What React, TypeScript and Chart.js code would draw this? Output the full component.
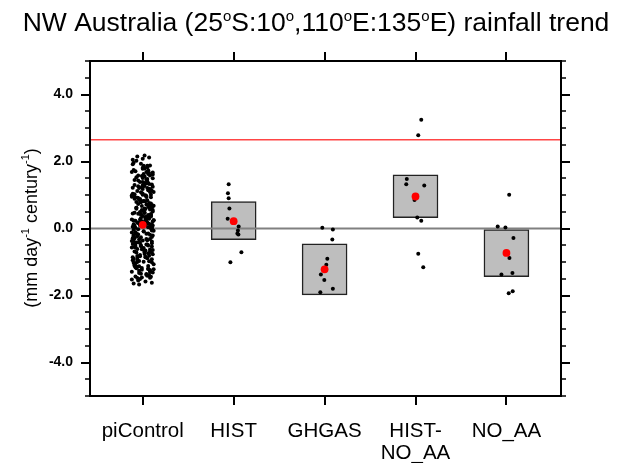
import React, { useEffect, useRef } from 'react';
import { Chart, registerables } from 'chart.js';

Chart.register(...registerables);

// ---------- data ----------
const categories: (string | string[])[] = ['piControl', 'HIST', 'GHGAS', ['HIST-', 'NO_AA'], 'NO_AA'];
const categoryPositions = [1, 2, 3, 4, 5];
const yTickValues = [-4, -2, 0, 2, 4];
const yMinorStep = 0.5;
const Y_MIN = -5;
const Y_MAX = 5;
const X_MIN = 0.42;
const X_MAX = 5.6;

const zeroLine = 0;
const observedTrend = 2.65;

const piControlY = [
  0.12, -0.45, 1.31, 0.78, -1.12, 0.05, 1.87, -0.63, 0.44, -0.21, 1.02, -1.38, 0.67, 0.29, -0.88, 1.55, -0.04, 0.93, -1.51, 0.36,
  -0.72, 1.18, 0.21, -0.33, 1.74, -1.05, 0.58, 0.01, -0.57, 1.41, 0.83, -1.24, 0.17, -0.09, 1.96, -0.81, 0.49, 1.09, -1.43, 0.26,
  0.71, -0.18, 1.27, -0.95, 0.39, 2.08, -0.52, 0.14, -1.31, 0.88, 1.63, -0.27, 0.52, -0.69, 1.12, 0.07, -1.18, 0.96, 1.48, -0.41,
  0.31, -1.62, 0.62, 1.83, -0.12, -0.84, 0.41, 1.21, -0.36, 0.76, -1.02, 1.36, 0.09, -0.61, 1.69, 0.23, -1.27, 0.55, -0.15, 1.04,
  -0.48, 0.85, 1.58, -1.09, 0.19, -0.77, 2.15, 0.33, -0.24, 1.15, -1.46, 0.64, 0.02, 1.79, -0.54, 0.91, -0.98, 0.27, 1.39, -0.31,
  0.47, -1.21, 1.06, -0.06, 0.73, -0.66, 1.92, 0.11, -1.36, 0.59, 1.25, -0.43, 0.18, -0.91, 1.51, 0.38, -1.14, 0.81, -0.26, 1.66,
  -0.58, 0.24, 1.33, -1.55, 0.69, -0.11, 0.97, 1.78, -0.79, 0.06, -1.29, 1.14, 0.43, -0.39, 2.02, -0.86, 0.61, 0.15, -1.07, 1.45,
  0.35, -0.68, 0.89, -1.41, 1.23, 0.03, -0.23, 1.61, -0.97, 0.53, 1.88, -0.46, 0.22, -1.19, 0.75, 1.08, -0.35, 0.13, -0.74, 1.29,
  -1.33, 0.66, 0.28, 1.71, -0.51, 0.95, -1.01, 0.42, 1.17, -0.17, 2.18, -0.64, 0.08, 1.35, -1.23, 0.57, -0.29, 0.84, 1.53, -0.92,
  0.16, -1.48, 1.01, 0.46, -0.37, 1.84, -0.83, 0.25, -1.16, 0.72, 1.43, -0.08, 0.63, -0.55, 1.19, -1.67, 0.34, 0.99, -0.19, 1.57,
  0.04, 1.22, -0.71, 0.58, -1.26, 1.67, -0.14, 0.37, -0.89, 1.93, -0.44, 0.79, 0.10, -1.52, 1.09, -0.02, 0.68, -0.62, 1.46, -1.11,
  0.27, -0.31, 1.75, -0.99, 0.51, 0.92, -0.48, 1.30, -1.39, 0.19, -0.07, 1.58, -0.76, 0.43, 2.05, -1.20, 0.85, -0.25, 0.62, -1.58,
  1.13, -0.53, 0.30, -1.04, 1.81, 0.14, -0.37, 0.99, -0.82, 0.55, 1.39, -1.30, 0.07, -0.16, 1.63, -0.69, 0.40, 1.26, -1.44, 0.22,
  -0.94, 0.72, 1.50, -0.20, 0.33, -1.35, 1.04, 0.00, -0.57, 1.87, -0.86, 0.48, 1.17, -1.13, 0.25, -0.42, 0.81, 1.69, -0.66, 0.12,
  0.60, -1.22, 0.18, 1.35, -0.29, 0.94, -1.47, 0.45, 1.01, -0.73, 0.09, 2.12, -1.00, 0.67, -0.12, 1.21, -0.50, 0.36, -1.64, 0.82,
];
const piControlJitter = [
  0.03, -0.08, 0.10, -0.02, 0.06, -0.11, 0.01, 0.08, -0.05, 0.11, -0.09, 0.04, -0.01, 0.07, -0.06, 0.02, -0.10, 0.09, -0.03, 0.05,
  -0.07, 0.00, 0.11, -0.04, 0.06, -0.09, 0.03, 0.10, -0.12, 0.05, -0.02, 0.08, -0.06, 0.01, -0.10, 0.07, -0.03, 0.12, -0.08, 0.04,
  0.09, -0.05, 0.02, -0.11, 0.07, 0.00, -0.08, 0.04, 0.11, -0.03, 0.06, -0.10, 0.01, 0.08, -0.06, 0.10, -0.01, -0.09, 0.05, -0.04,
  -0.02, 0.10, -0.07, 0.05, -0.12, 0.03, 0.09, -0.04, 0.00, 0.07, -0.10, 0.02, 0.11, -0.06, 0.04, -0.08, 0.08, -0.01, 0.06, -0.11,
  0.05, -0.03, 0.08, -0.09, 0.01, 0.11, -0.06, 0.03, -0.10, 0.09, -0.01, 0.06, -0.08, 0.02, 0.10, -0.05, 0.07, -0.12, 0.00, 0.04,
  -0.09, 0.06, -0.01, 0.10, -0.05, 0.02, -0.11, 0.08, 0.04, -0.07, 0.11, -0.03, 0.05, -0.10, 0.00, 0.09, -0.06, 0.03, -0.02, 0.07,
  0.01, -0.10, 0.07, -0.05, 0.11, -0.08, 0.04, 0.00, -0.03, 0.09, -0.12, 0.06, -0.02, 0.10, -0.07, 0.03, 0.08, -0.04, 0.12, -0.09,
  0.07, 0.02, -0.09, 0.05, -0.01, 0.10, -0.06, 0.11, -0.04, 0.01, 0.08, -0.11, 0.03, -0.07, 0.09, -0.02, 0.05, -0.10, 0.06, 0.00,
  -0.04, 0.09, 0.03, -0.08, 0.06, -0.12, 0.10, -0.02, 0.07, -0.06, 0.02, 0.11, -0.09, 0.04, -0.01, 0.08, -0.11, 0.05, -0.07, 0.10,
  0.00, -0.06, 0.09, 0.02, -0.10, 0.05, -0.03, 0.12, -0.08, 0.06, -0.05, 0.01, 0.10, -0.09, 0.07, -0.04, 0.03, -0.12, 0.08, -0.01,
  0.06, -0.11, 0.02, 0.09, -0.04, 0.11, -0.08, 0.00, 0.05, -0.02, 0.10, -0.07, 0.03, -0.12, 0.08, -0.05, 0.12, -0.01, 0.04, -0.09,
  -0.03, 0.08, -0.10, 0.01, 0.11, -0.06, 0.04, -0.09, 0.07, -0.01, 0.12, -0.05, 0.02, 0.09, -0.11, 0.06, -0.04, 0.10, -0.07, 0.03,
  0.10, -0.02, 0.05, -0.08, 0.00, 0.07, -0.12, 0.03, -0.06, 0.11, -0.03, 0.08, -0.10, 0.04, 0.01, -0.09, 0.06, -0.05, 0.09, -0.01,
  -0.06, 0.04, 0.11, -0.10, 0.07, -0.02, 0.00, 0.09, -0.08, 0.05, -0.11, 0.02, 0.08, -0.04, 0.12, -0.07, 0.01, -0.12, 0.03, 0.10,
  0.02, 0.12, -0.05, 0.06, -0.09, 0.04, 0.08, -0.11, 0.00, 0.10, -0.03, 0.07, -0.06, 0.11, -0.08, 0.05, -0.02, 0.09, -0.10, 0.01,
];

const histY = [1.32, 1.05, 0.9, 0.6, 0.29, 0.06, -0.06, -0.15, -0.18, -0.71, -1.01];
const histJitter = [-0.055, -0.063, -0.055, -0.047, -0.066, 0.055, 0.047, 0.041, 0.052, 0.085, -0.036];

const ghgasY = [0.02, -0.03, -0.33, -0.9, -1.08, -1.37, -1.54, -1.8, -1.9];
const ghgasJitter = [-0.025, 0.091, 0.085, 0.03, 0.019, -0.041, -0.003, 0.091, -0.047];

const histNoAaY = [3.25, 2.78, 1.48, 1.32, 1.28, 0.85, 0.33, 0.23, -0.75, -1.16];
const histNoAaJitter = [0.063, 0.03, -0.096, -0.102, 0.096, -0.011, 0.019, 0.063, 0.03, 0.085];

const noAaY = [1.01, 0.06, 0.03, -0.28, -0.88, -1.33, -1.37, -1.87, -1.93];
const noAaJitter = [0.03, -0.096, -0.011, 0.077, 0.033, 0.066, -0.055, 0.069, 0.025];

// boxes for HIST, GHGAS, HIST-NO_AA, NO_AA
const boxPositions = [2, 3, 4, 5];
const boxLow = [-0.33, -1.98, 0.32, -1.44];
const boxHigh = [0.8, -0.46, 1.6, -0.03];

const ensembleMean = [0.11, 0.22, -1.22, 0.955, -0.73];

// ---------- helpers ----------
const FAMILY = '"Liberation Sans", Arial, Helvetica, sans-serif';

type Seg = { t: string; sup?: boolean };

function drawRich(
  ctx: CanvasRenderingContext2D,
  segs: Seg[],
  x: number,
  y: number,
  size: number,
  supSize: number,
  supRise: number
) {
  const widths = segs.map((s) => {
    ctx.font = `${s.sup ? supSize : size}px ${FAMILY}`;
    return ctx.measureText(s.t).width;
  });
  const total = widths.reduce((a, b) => a + b, 0);
  let cx = x - total / 2;
  ctx.textAlign = 'left';
  ctx.textBaseline = 'alphabetic';
  segs.forEach((s, i) => {
    ctx.font = `${s.sup ? supSize : size}px ${FAMILY}`;
    ctx.fillText(s.t, cx, s.sup ? y - supRise : y);
    cx += widths[i];
  });
}

const titleSegs: Seg[] = [
  { t: 'NW Australia (25' },
  { t: 'o', sup: true },
  { t: 'S:10' },
  { t: 'o', sup: true },
  { t: ',110' },
  { t: 'o', sup: true },
  { t: 'E:135' },
  { t: 'o', sup: true },
  { t: 'E) rainfall trend' },
];

const yTitleSegs: Seg[] = [
  { t: '(mm day' },
  { t: '-1', sup: true },
  { t: ' century' },
  { t: '-1', sup: true },
  { t: ')' },
];

const framePlugin = {
  id: 'framePlugin',
  afterDraw(chart: any) {
    const ctx: CanvasRenderingContext2D = chart.ctx;
    const { left, right, top, bottom } = chart.chartArea;
    const ys = chart.scales.y;
    const xs = chart.scales.x;
    ctx.save();
    ctx.strokeStyle = '#000';
    ctx.lineWidth = 2;
    ctx.strokeRect(left, top, right - left, bottom - top);

    for (let v = Y_MIN; v <= Y_MAX + 1e-9; v += yMinorStep) {
      const p = Math.round(ys.getPixelForValue(v));
      const major = yTickValues.some((t) => Math.abs(t - v) < 1e-6);
      const len = major ? 9 : 5;
      ctx.lineWidth = major ? 2 : 1.5;
      ctx.beginPath();
      ctx.moveTo(left - len, p);
      ctx.lineTo(left, p);
      ctx.moveTo(right, p);
      ctx.lineTo(right + len, p);
      ctx.stroke();
    }
    ctx.lineWidth = 2;
    categoryPositions.forEach((c) => {
      const p = Math.round(xs.getPixelForValue(c));
      ctx.beginPath();
      ctx.moveTo(p, bottom);
      ctx.lineTo(p, bottom + 9);
      ctx.moveTo(p, top);
      ctx.lineTo(p, top - 9);
      ctx.stroke();
    });

    ctx.fillStyle = '#000';
    drawRich(ctx, titleSegs, 316, 31, 26.5, 15, 10);

    ctx.translate(37, 228);
    ctx.rotate(-Math.PI / 2);
    drawRich(ctx, yTitleSegs, 0, 0, 18, 11, 8);
    ctx.restore();
  },
};

function runPoints(pos: number, ys: number[], jit: number[]) {
  return ys.map((v, i) => ({ x: pos + jit[i], y: v }));
}

export default function App() {
  const ref = useRef<HTMLCanvasElement | null>(null);

  useEffect(() => {
    document.body.style.margin = '0';
    const canvas = ref.current;
    if (!canvas) return;

    const runs = [
      ...runPoints(1, piControlY, piControlJitter),
      ...runPoints(2, histY, histJitter),
      ...runPoints(3, ghgasY, ghgasJitter),
      ...runPoints(4, histNoAaY, histNoAaJitter),
      ...runPoints(5, noAaY, noAaJitter),
    ];

    const chart = new Chart(canvas, {
      type: 'scatter',
      data: {
        datasets: [
          {
            type: 'bar',
            label: 'spread',
            data: boxPositions.map((x, i) => ({ x, y: [boxLow[i], boxHigh[i]] })),
            backgroundColor: '#bebebe',
            borderColor: '#222222',
            borderWidth: 1.5,
            borderSkipped: false,
            barThickness: 45,
            order: 5,
          } as any,
          {
            type: 'line',
            label: 'zero',
            data: [
              { x: X_MIN, y: zeroLine },
              { x: X_MAX, y: zeroLine },
            ],
            borderColor: '#808080',
            borderWidth: 2,
            pointRadius: 0,
            order: 4,
          } as any,
          {
            type: 'line',
            label: 'observed',
            data: [
              { x: X_MIN, y: observedTrend },
              { x: X_MAX, y: observedTrend },
            ],
            borderColor: '#ff4545',
            borderWidth: 1.5,
            pointRadius: 0,
            order: 4,
          } as any,
          {
            type: 'scatter',
            label: 'runs',
            data: runs,
            backgroundColor: '#000000',
            borderWidth: 0,
            pointRadius: 2.0,
            order: 2,
          } as any,
          {
            type: 'scatter',
            label: 'mean',
            data: categoryPositions.map((x, i) => ({ x, y: ensembleMean[i] })),
            backgroundColor: '#ff0000',
            borderWidth: 0,
            pointRadius: 3.9,
            order: 1,
          } as any,
        ],
      },
      options: {
        animation: false,
        responsive: false,
        devicePixelRatio: 1,
        layout: { padding: { top: 61, right: 68, left: 0, bottom: 0 } },
        plugins: {
          legend: { display: false },
          tooltip: { enabled: false },
        },
        scales: {
          x: {
            type: 'linear',
            min: X_MIN,
            max: X_MAX,
            offset: false,
            grid: { display: false, drawTicks: false, offset: false },
            border: { display: false },
            afterBuildTicks: (scale: any) => {
              scale.ticks = categoryPositions.map((v) => ({ value: v }));
            },
            afterFit: (scale: any) => {
              scale.height = 67;
              scale.paddingLeft = 0;
              scale.paddingRight = 0;
            },
            ticks: {
              autoSkip: false,
              maxRotation: 0,
              minRotation: 0,
              padding: 24,
              color: '#000',
              font: { family: FAMILY, size: 20.5, lineHeight: 1.1 },
              callback: (value: any) => {
                const idx = categoryPositions.indexOf(Number(value));
                return idx >= 0 ? (categories[idx] as any) : '';
              },
            },
          },
          y: {
            type: 'linear',
            min: Y_MIN,
            max: Y_MAX,
            grid: { display: false, drawTicks: false },
            border: { display: false },
            afterBuildTicks: (scale: any) => {
              scale.ticks = yTickValues.map((v) => ({ value: v }));
            },
            afterFit: (scale: any) => {
              scale.width = 90;
              scale.paddingTop = 0;
              scale.paddingBottom = 0;
            },
            ticks: {
              padding: 17,
              color: '#000',
              font: { family: FAMILY, size: 14, weight: 'bold' },
              callback: (value: any) => Number(value).toFixed(1),
            },
          },
        },
      } as any,
      plugins: [framePlugin],
    });

    return () => {
      chart.destroy();
    };
  }, []);

  return (
    <div style={{ position: 'absolute', left: 0, top: 0, width: 629, height: 463, background: '#fff' }}>
      <canvas ref={ref} width={629} height={463} style={{ width: 629, height: 463, display: 'block' }} />
    </div>
  );
}
